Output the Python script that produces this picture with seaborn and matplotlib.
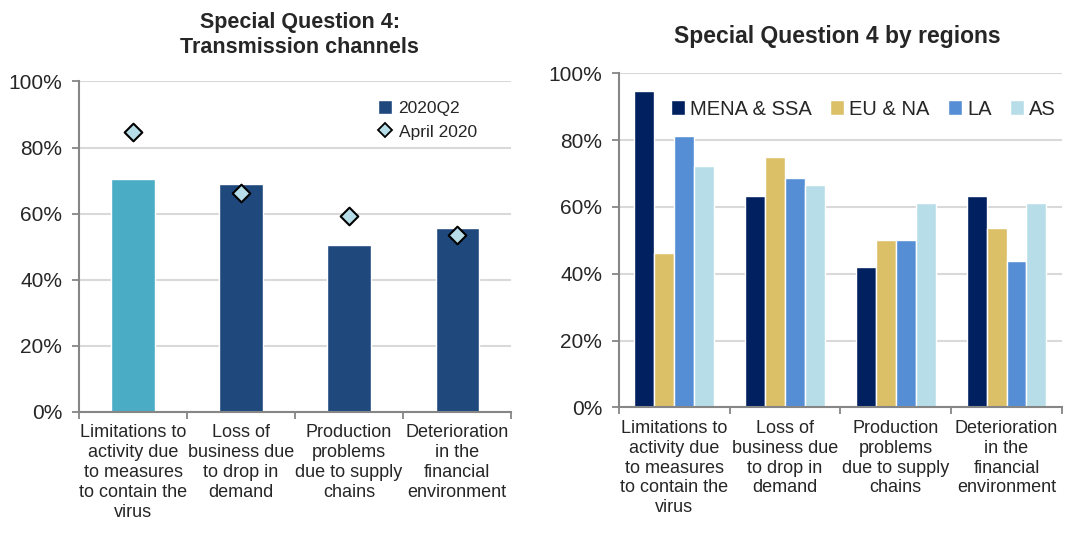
import pandas as pd
import matplotlib.pyplot as plt
import seaborn as sns
from matplotlib.patches import Patch
from matplotlib.lines import Line2D
from matplotlib.ticker import PercentFormatter, FixedLocator

# Dati
categories = [
    "Limitations to\nactivity due\nto measures\nto contain the\nvirus",
    "Loss of\nbusiness due\nto drop in\ndemand",
    "Production\nproblems\ndue to supply\nchains",
    "Deterioration\nin the\nfinancial\nenvironment",
]
q2_2020 = [70.5, 69.1, 50.6, 55.6]
april_2020 = [84.6, 66.3, 59.2, 53.6]

regions = ["MENA & SSA", "EU & NA", "LA", "AS"]
mena_ssa = [94.7, 63.2, 42.1, 63.2]
eu_na = [46.2, 75.0, 50.0, 53.8]
la = [81.3, 68.8, 50.0, 43.8]
asia = [72.2, 66.7, 61.1, 61.1]

# Colori
left_bar_colors = ["#4BACC6", "#1F497D", "#1F497D", "#1F497D"]
diamond_color = "#B7DEE8"
region_colors = ["#002060", "#DBC068", "#558ED5", "#B7DEE8"]

df_left = pd.DataFrame({"cat": categories, "q2": q2_2020, "april": april_2020})
df_right = pd.DataFrame({
    "cat": categories * 4,
    "region": [r for r in regions for _ in categories],
    "value": mena_ssa + eu_na + la + asia,
})

sns.set_style("white")
plt.rcParams["font.family"] = ["Liberation Sans", "DejaVu Sans"]

fig = plt.figure(figsize=(10.75, 5.43), dpi=100)
ax1 = fig.add_axes([0.0735, 0.2413, 0.402, 0.6087])
ax2 = fig.add_axes([0.5758, 0.2499, 0.412, 0.615])

# --- grafico sinistro ---
sns.barplot(data=df_left, x="cat", y="q2", hue="cat", palette=left_bar_colors,
            width=0.4, legend=False, ax=ax1, zorder=2, saturation=1)
sns.stripplot(data=df_left, x="cat", y="april", jitter=False, marker="D", size=9,
              color=diamond_color, edgecolor="black", linewidth=1.5, ax=ax1, zorder=3)

handles = [
    Patch(facecolor="#1F497D", label="2020Q2"),
    Line2D([], [], marker="D", linestyle="none", markersize=7, markerfacecolor=diamond_color,
           markeredgecolor="black", markeredgewidth=1.3, label="April 2020"),
]
ax1.legend(handles=handles, loc="upper left", bbox_to_anchor=(0.655, 0.99), frameon=False,
           fontsize=12.5, handlelength=0.8, handleheight=0.8, handletextpad=0.4, labelspacing=0.45)

# --- grafico destro ---
sns.barplot(data=df_right, x="cat", y="value", hue="region", hue_order=regions,
            palette=region_colors, width=0.72, gap=0, ax=ax2, zorder=2, saturation=1)
ax2.legend(loc="center left", bbox_to_anchor=(0.1, 0.893), ncol=4, frameon=False,
           fontsize=14.5, handlelength=0.7, handleheight=0.7, handletextpad=0.25,
           columnspacing=0.9, borderaxespad=0)

for ax in (ax1, ax2):
    ax.set_ylim(0, 100)
    ax.set_xlim(-0.5, 3.5)
    ax.set_yticks(range(0, 101, 20))
    ax.yaxis.set_major_formatter(PercentFormatter(decimals=0))
    ax.set_xlabel("")
    ax.set_ylabel("")
    ax.grid(axis="y", color="#D9D9D9", linewidth=1.5, zorder=0)
    ax.set_axisbelow(True)
    for s in ("top", "right"):
        ax.spines[s].set_visible(False)
    for s in ("left", "bottom"):
        ax.spines[s].set_color("#868686")
        ax.spines[s].set_linewidth(1.5)
    ax.tick_params(axis="y", left=True, length=5, width=1.3, color="#868686",
                   labelsize=15, pad=7)
    ax.tick_params(axis="x", which="major", length=0, labelsize=13, pad=9)
    ax.xaxis.set_minor_locator(FixedLocator([-0.5, 0.5, 1.5, 2.5, 3.5]))
    ax.tick_params(axis="x", which="minor", bottom=True, length=5, width=1.3, color="#868686")
    for lbl in ax.get_xticklabels():
        lbl.set_linespacing(1.22)

# Titoli
fig.text(0.279, 1 - 35 / 543, "Special Question 4:\nTransmission channels", ha="center",
         va="center", fontsize=15.5, fontweight="bold", linespacing=1.3)
fig.text(837 / 1075, 1 - 37 / 543, "Special Question 4 by regions", ha="center",
         va="center", fontsize=16.5, fontweight="bold")

plt.savefig("out.png", dpi=100)
